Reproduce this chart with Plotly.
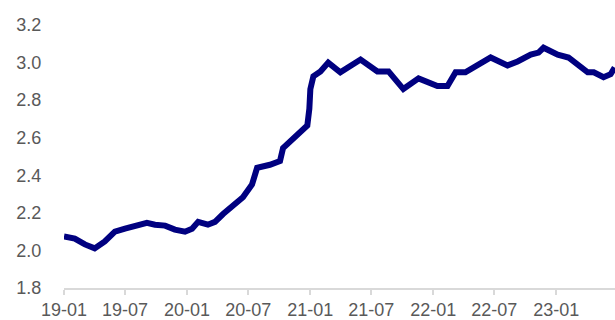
import plotly.graph_objects as go

# Series observations (date, level)
dates = [
    "2019-01-01", "2019-02-02", "2019-03-04", "2019-04-02", "2019-05-02",
    "2019-06-01", "2019-07-01", "2019-07-30", "2019-09-04", "2019-09-28",
    "2019-10-28", "2019-11-26", "2019-12-26", "2020-01-16", "2020-02-03",
    "2020-03-03", "2020-03-24", "2020-04-17", "2020-05-17", "2020-06-15",
    "2020-07-12", "2020-07-27", "2020-09-03", "2020-10-03", "2020-10-12",
    "2020-11-08", "2020-12-02", "2020-12-23", "2020-12-29", "2021-01-01",
    "2021-01-10", "2021-01-31", "2021-02-23", "2021-03-31", "2021-05-30",
    "2021-07-19", "2021-08-21", "2021-09-11", "2021-10-04", "2021-11-18",
    "2022-01-13", "2022-02-12", "2022-03-08", "2022-04-06", "2022-05-06",
    "2022-06-20", "2022-08-09", "2022-09-08", "2022-10-17", "2022-11-09",
    "2022-11-24", "2023-01-05", "2023-02-06", "2023-03-08", "2023-04-04",
    "2023-04-22", "2023-05-21", "2023-06-11", "2023-06-23",
]
values = [
    2.074, 2.063, 2.032, 2.011, 2.048,
    2.100, 2.116, 2.132, 2.147, 2.137,
    2.132, 2.111, 2.100, 2.116, 2.152,
    2.137, 2.152, 2.194, 2.241, 2.283,
    2.351, 2.440, 2.456, 2.476, 2.545,
    2.587, 2.624, 2.665, 2.754, 2.859,
    2.927, 2.953, 3.000, 2.948, 3.016,
    2.953, 2.953, 2.911, 2.859, 2.916,
    2.875, 2.875, 2.948, 2.948, 2.980,
    3.027, 2.985, 3.006, 3.042, 3.053,
    3.079, 3.042, 3.027, 2.990, 2.948,
    2.948, 2.922, 2.938, 2.974,
]

y_ticks = [1.8, 2.0, 2.2, 2.4, 2.6, 2.8, 3.0, 3.2]

text_color = "#595959"
font_family = "Liberation Sans, Arial, sans-serif"

fig = go.Figure(
    go.Scatter(
        x=dates,
        y=values,
        mode="lines",
        line=dict(color="#000080", width=6),
        hoverinfo="x+y",
    )
)

fig.update_layout(
    width=615,
    height=320,
    margin=dict(l=64, r=0, t=25, b=28),
    paper_bgcolor="white",
    plot_bgcolor="white",
    showlegend=False,
    font=dict(family=font_family, size=18, color=text_color),
)

fig.update_xaxes(
    type="date",
    range=["2019-01-01", "2023-06-24"],
    tick0="2019-01-01",
    dtick="M6",
    tickformat="%y-%m",
    showgrid=False,
    zeroline=False,
    showline=True,
    linecolor="#d9d9d9",
    linewidth=1.5,
    ticks="outside",
    ticklen=5,
    tickcolor="#d9d9d9",
    tickwidth=1.5,
    tickfont=dict(size=18, color=text_color),
)

# invisible ticks keep the value labels set off from the plot edge
fig.update_yaxes(
    range=[1.8, 3.2],
    tickvals=y_ticks,
    tickformat=".1f",
    showgrid=False,
    zeroline=False,
    showline=False,
    ticks="outside",
    ticklen=18,
    tickcolor="rgba(0,0,0,0)",
    tickfont=dict(size=18, color=text_color),
)

fig.write_html("out.html")
